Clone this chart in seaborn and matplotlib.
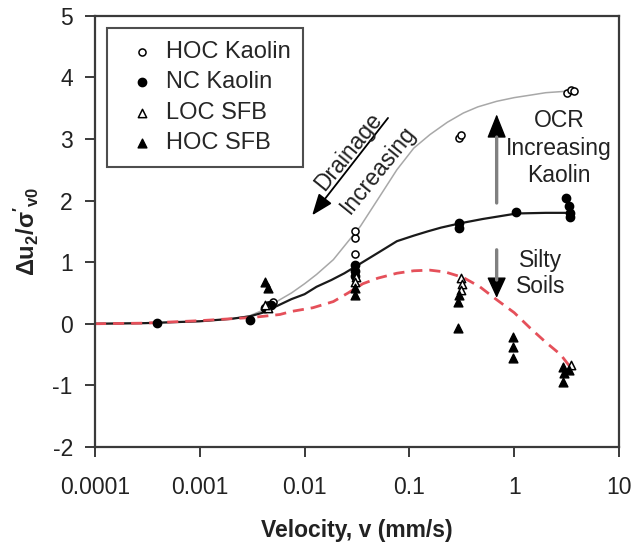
import numpy as np
import pandas as pd
import matplotlib
matplotlib.use("Agg")
import matplotlib.pyplot as plt
import seaborn as sns

hoc_kaolin_x = [0.0045, 0.005, 0.03, 0.03, 0.03, 0.30, 0.31, 3.2, 3.5, 3.7]
hoc_kaolin_y = [0.30, 0.35, 1.14, 1.39, 1.51, 3.02, 3.06, 3.75, 3.80, 3.78]

nc_kaolin_x = [0.00039, 0.003, 0.0042, 0.0048, 0.03, 0.03, 0.03, 0.30, 0.30, 1.05, 3.1, 3.3, 3.4, 3.4]
nc_kaolin_y = [0.01, 0.06, 0.25, 0.30, 0.95, 0.85, 0.78, 1.63, 1.55, 1.82, 2.04, 1.91, 1.79, 1.73]

loc_sfb_x = [0.0045, 0.0042, 0.031, 0.03, 0.31, 0.32, 0.31, 3.5]
loc_sfb_y = [0.25, 0.30, 0.76, 0.68, 0.75, 0.65, 0.55, -0.67]

hoc_sfb_x = [0.0042, 0.0045, 0.03, 0.03, 0.30, 0.29, 0.29, 0.98, 0.98, 0.97, 2.9, 3.0, 2.9, 3.3]
hoc_sfb_y = [0.68, 0.58, 0.58, 0.47, 0.47, 0.36, -0.07, -0.21, -0.37, -0.56, -0.70, -0.80, -0.94, -0.75]

# Trend lines
grey_x = [0.0001, 0.0003, 0.001, 0.002, 0.003, 0.004, 0.0058, 0.0075, 0.01, 0.013, 0.0188, 0.025,
          0.034, 0.05, 0.076, 0.11, 0.157, 0.23, 0.327, 0.45, 0.68, 1.0, 1.42, 2.0, 2.94, 3.6]
grey_y = [0.0, 0.01, 0.04, 0.08, 0.13, 0.22, 0.39, 0.50, 0.65, 0.80, 1.04, 1.30,
          1.58, 2.02, 2.50, 2.85, 3.07, 3.27, 3.42, 3.52, 3.61, 3.67, 3.71, 3.75, 3.77, 3.79]

black_x = [0.0001, 0.0003, 0.001, 0.002, 0.003, 0.004, 0.0058, 0.0075, 0.01, 0.013, 0.018, 0.024,
           0.03, 0.05, 0.076, 0.11, 0.15, 0.2, 0.304, 0.5, 1.06, 2.0, 3.4]
black_y = [0.0, 0.01, 0.04, 0.08, 0.12, 0.18, 0.31, 0.40, 0.48, 0.60, 0.71, 0.82,
           0.92, 1.15, 1.34, 1.43, 1.50, 1.56, 1.63, 1.70, 1.79, 1.80, 1.80]

red_x = [0.0001, 0.0003, 0.001, 0.003, 0.004, 0.0058, 0.0075, 0.012, 0.0188, 0.026, 0.036, 0.05,
         0.076, 0.11, 0.157, 0.22, 0.327, 0.47, 0.68, 1.0, 1.42, 2.0, 2.77, 3.6]
red_y = [0.0, 0.01, 0.05, 0.10, 0.12, 0.15, 0.20, 0.26, 0.36, 0.50, 0.65, 0.74,
         0.82, 0.86, 0.87, 0.84, 0.75, 0.60, 0.39, 0.18, -0.07, -0.30, -0.50, -0.75]

x_ticks = [0.0001, 0.001, 0.01, 0.1, 1, 10]
x_tick_labels = ["0.0001", "0.001", "0.01", "0.1", "1", "10"]
y_ticks = [-2, -1, 0, 1, 2, 3, 4, 5]

sns.set_style("ticks")
plt.rcParams["font.family"] = ["Liberation Sans", "DejaVu Sans"]
plt.rcParams["axes.unicode_minus"] = False
plt.rcParams["mathtext.fontset"] = "custom"
plt.rcParams["mathtext.rm"] = "Liberation Sans"
plt.rcParams["mathtext.bf"] = "Liberation Sans:bold"
plt.rcParams["mathtext.it"] = "Liberation Sans:italic"

fig = plt.figure(figsize=(6.41, 5.5), dpi=100)
ax = fig.add_axes([0.1482, 0.1873, 0.8175, 0.7842])

# trend lines
sns.lineplot(x=grey_x, y=grey_y, ax=ax, color="#a8a8a8", lw=1.1, sort=False, zorder=1)
sns.lineplot(x=black_x, y=black_y, ax=ax, color="#1a1a1a", lw=1.6, sort=False, zorder=1)
sns.lineplot(x=red_x, y=red_y, ax=ax, color="#e5505a", lw=2.0, sort=False, zorder=1,
             linestyle=(0, (4, 2.5)))

# measured points
h1 = ax.scatter(hoc_kaolin_x, hoc_kaolin_y, marker="o", s=26, facecolor="white",
                edgecolor="black", linewidth=1.1, zorder=3, label="HOC Kaolin")
h2 = ax.scatter(nc_kaolin_x, nc_kaolin_y, marker="o", s=36, color="black",
                zorder=3, label="NC Kaolin")
h3 = ax.scatter(loc_sfb_x, loc_sfb_y, marker="^", s=36, facecolor="white",
                edgecolor="black", linewidth=1.1, zorder=3, label="LOC SFB")
h4 = ax.scatter(hoc_sfb_x, hoc_sfb_y, marker="^", s=40, color="black",
                zorder=3, label="HOC SFB")

ax.set_xscale("log")
ax.set_xlim(0.0001, 10)
ax.set_ylim(-2, 5)
ax.set_xticks(x_ticks)
ax.set_xticklabels(x_tick_labels)
ax.set_yticks(y_ticks)
ax.minorticks_off()
ax.tick_params(axis="both", direction="out", length=7, width=1.4, color="#3a3a3a",
               labelsize=16.5, labelcolor="#222222")
ax.tick_params(axis="x", pad=14)
ax.tick_params(axis="y", pad=9)
for sp in ax.spines.values():
    sp.set_visible(True)
    sp.set_linewidth(1.6)
    sp.set_color("#3a3a3a")

ax.set_xlabel("Velocity, v (mm/s)", fontsize=16.5, fontweight="bold", labelpad=14, color="#222222")
ax.set_ylabel(r"$\mathbf{\Delta u_2/\sigma'_{v0}}$", fontsize=17, labelpad=8, color="#222222")

leg = ax.legend(handles=[h1, h2, h3, h4], loc="upper left", bbox_to_anchor=(0.022, 0.972),
                fontsize=17, frameon=True, fancybox=False, borderpad=0.55,
                handletextpad=0.05, handlelength=1.9, labelspacing=0.36, borderaxespad=0)
leg.get_frame().set_edgecolor("#222222")
leg.get_frame().set_linewidth(1.5)

# annotations
txt = dict(fontsize=16.5, color="#222222", ha="center", va="center")

# drainage arrow (dark shaft, black head)
ax.annotate("", xy=(0.0118, 1.76), xytext=(0.0625, 3.34),
            arrowprops=dict(arrowstyle="-|>,head_length=1.3,head_width=0.5",
                            fc="black", ec="black", lw=1.3, shrinkA=0, shrinkB=0))
ax.text(0.0262, 2.80, "Drainage", rotation=51, rotation_mode="anchor", **txt)
ax.text(0.0505, 2.50, "Increasing", rotation=51, rotation_mode="anchor", **txt)

# OCR increasing: grey shaft, black head
ax.annotate("", xy=(0.68, 3.40), xytext=(0.68, 2.9),
            arrowprops=dict(arrowstyle="-|>,head_length=1.5,head_width=0.6",
                            fc="black", ec="black", lw=1, shrinkA=0, shrinkB=0))
ax.annotate("", xy=(0.68, 3.03), xytext=(0.68, 1.96),
            arrowprops=dict(arrowstyle="-", color="#808080", lw=2.4, shrinkA=0, shrinkB=0))
ax.text(2.67, 2.85, "OCR\nIncreasing\nKaolin", linespacing=1.25, **txt)

# silty soils: grey shaft, black head
ax.annotate("", xy=(0.68, 0.42), xytext=(0.68, 0.8),
            arrowprops=dict(arrowstyle="-|>,head_length=1.3,head_width=0.6",
                            fc="black", ec="black", lw=1, shrinkA=0, shrinkB=0))
ax.annotate("", xy=(0.68, 0.71), xytext=(0.68, 1.20),
            arrowprops=dict(arrowstyle="-", color="#808080", lw=2.4, shrinkA=0, shrinkB=0))
ax.text(1.80, 0.81, "Silty\nSoils", linespacing=1.15, **txt)

fig.savefig("out.png", dpi=100)
